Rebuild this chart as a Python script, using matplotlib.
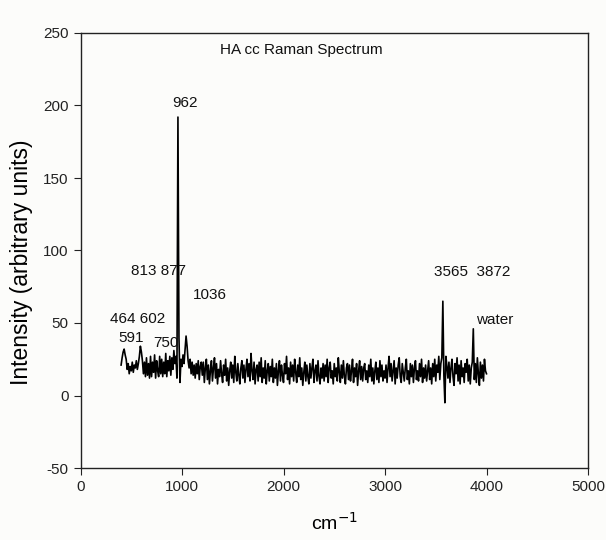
import numpy as np
import matplotlib
matplotlib.use("Agg")
import matplotlib.pyplot as plt

plt.rcParams['font.family'] = ['Liberation Sans', 'DejaVu Sans']
plt.rcParams['axes.unicode_minus'] = False

# Raman shift grid (cm-1), 10 cm-1 steps from 400 to 4000
wavenumber_start = 400
wavenumber_step = 10

intensity = [
    21, 26, 30, 32, 28, 25, 18, 22, 15, 20, 17, 23, 16, 21, 19, 24, 18, 22, 27, 34,
    30, 24, 15, 23, 13, 26, 14, 22, 12, 27, 13, 23, 16, 28, 12, 24, 17, 13, 27, 15,
    25, 13, 23, 15, 29, 13, 24, 17, 27, 14, 26, 18, 31, 22, 27, 12, 192, 40, 9, 25,
    20, 28, 22, 32, 41, 34, 24, 19, 25, 15, 23, 14, 21, 12, 22, 15, 24, 11, 20, 23,
    14, 23, 9, 19, 25, 11, 21, 8, 17, 24, 10, 19, 26, 12, 22, 8, 18, 13, 24, 15,
    9, 21, 14, 25, 10, 19, 7, 17, 23, 12, 21, 9, 27, 16, 10, 22, 14, 8, 19, 24,
    12, 21, 9, 18, 25, 13, 22, 10, 29, 17, 11, 23, 8, 18, 21, 10, 23, 13, 26, 9,
    19, 12, 24, 8, 17, 22, 10, 20, 13, 25, 9, 19, 12, 22, 7, 17, 24, 10, 21, 14,
    9, 22, 15, 27, 11, 19, 8, 23, 13, 21, 10, 25, 16, 9, 21, 13, 26, 11, 19, 7,
    16, 23, 10, 21, 13, 8, 22, 12, 19, 25, 9, 17, 21, 10, 24, 13, 8, 19, 12, 22,
    10, 21, 13, 25, 9, 19, 23, 12, 17, 8, 22, 13, 19, 10, 26, 16, 9, 21, 12, 24,
    13, 8, 19, 22, 11, 21, 10, 17, 25, 9, 19, 13, 22, 7, 17, 24, 11, 20, 10, 19,
    22, 11, 17, 9, 21, 13, 25, 10, 19, 8, 17, 23, 11, 19, 9, 24, 13, 21, 10, 17,
    12, 21, 9, 19, 27, 13, 22, 10, 17, 24, 8, 19, 12, 21, 26, 13, 9, 22, 16, 10,
    19, 25, 11, 17, 8, 22, 13, 21, 9, 19, 24, 11, 17, 10, 22, 13, 25, 9, 19, 12,
    21, 10, 17, 24, 11, 19, 8, 22, 13, 25, 10, 21, 16, 27, 11, 22, 26, 65, 14, -5,
    27, 20, 12, 23, 9, 19, 25, 13, 7, 22, 15, 26, 10, 21, 8, 24, 13, 19, 9, 22,
    16, 25, 10, 21, 8, 19, 23, 46, 11, 22, 9, 26, 15, 7, 23, 12, 21, 10, 25, 17,
    15,
]
wavenumber = wavenumber_start + wavenumber_step * np.arange(len(intensity))

# peak labels: text, x, y (data coords)
label_texts = ["962", "813 877", "1036", "464 602", "591", "750", "3565  3872", "water"]
label_x = [1025, 764, 1272, 567, 503, 838, 3861, 4078]
label_y = [202, 86, 69, 52.5, 39.5, 36, 85, 52]

title_text = "HA cc Raman Spectrum"
x_ticks = [0, 1000, 2000, 3000, 4000, 5000]
y_ticks = [-50, 0, 50, 100, 150, 200, 250]

bg = '#fcfcfa'
fig = plt.figure(figsize=(6.06, 5.40), dpi=100, facecolor=bg)
ax = fig.add_axes([80.5 / 606, 1 - 468 / 540, (588 - 80.5) / 606, (468 - 33) / 540])
ax.set_facecolor(bg)

ax.plot(wavenumber, intensity, color='black', linewidth=1.2)

ax.set_xlim(0, 5000)
ax.set_ylim(-50, 250)
ax.set_xticks(x_ticks)
ax.set_yticks(y_ticks)
ax.tick_params(direction='out', length=5, width=0.8, labelsize=11, colors='#222222',
               top=False, right=False)
for s in ax.spines.values():
    s.set_linewidth(1.0)
    s.set_color('#222222')

for t, x, y in zip(label_texts, label_x, label_y):
    ax.text(x, y, t, ha='center', va='center', fontsize=11, color='#111111')

ax.text(2180, 238.5, title_text, ha='center', va='center', fontsize=11, color='#111111')

ax.set_ylabel("Intensity (arbitrary units)", fontsize=16.5)
ax.yaxis.set_label_coords(-0.094, 0.474)
ax.set_xlabel("cm$^{-1}$", fontsize=14)
ax.xaxis.set_label_coords(0.5, -0.1)

fig.savefig("out.png", dpi=100, facecolor=bg)
